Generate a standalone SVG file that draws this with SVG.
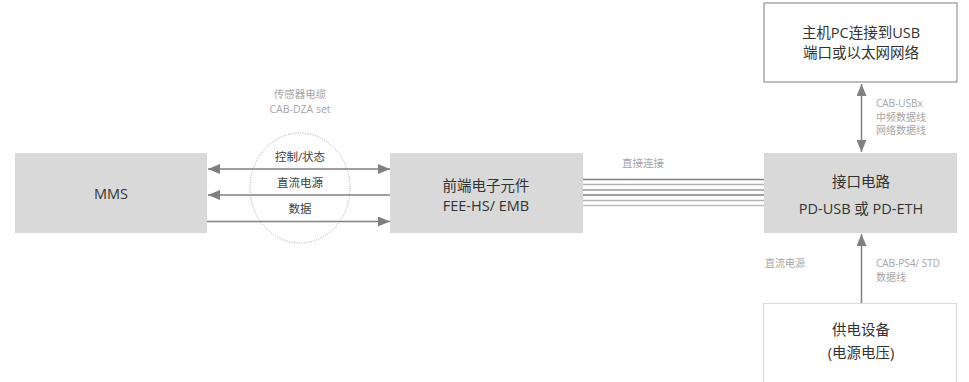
<svg xmlns="http://www.w3.org/2000/svg" width="969" height="382" viewBox="0 0 969 382">
<style>
text{font-family:"Open Sans","Noto Sans CJK SC",sans-serif;text-anchor:middle}
.box{fill:#d9d9d9}
.main{font-size:14.5px;fill:#333333}
.lbl{font-size:11.5px;fill:#404040}
.cap{font-size:10px;fill:#a6a6a6;text-anchor:start}
.gcap{font-size:10.5px;fill:#a6a6a6}
.ln{stroke:#808080;stroke-width:1.5;fill:none}
</style>
<defs>
<marker id="ah" viewBox="0 0 12 10" refX="12" refY="5" markerWidth="12" markerHeight="10" markerUnits="userSpaceOnUse" orient="auto-start-reverse">
<path d="M0,0 L12,5 L0,10 Z" fill="#808080"/>
</marker>
</defs>
<g id="mms"><rect class="box" x="15" y="153" width="192" height="80"/><text class="main" x="111" y="199">MMS</text></g>
<g id="fee"><rect class="box" x="390" y="153" width="193" height="80"/><text class="main" x="486" y="191">前端电子元件</text><text class="main" x="486" y="211">FEE-HS/ EMB</text></g>
<g id="iface"><rect class="box" x="764" y="153" width="193" height="80"/><text class="main" x="861" y="187">接口电路</text><text class="main" x="861" y="214">PD-USB 或 PD-ETH</text></g>
<g id="host"><rect x="764" y="3" width="193" height="79" fill="#fff" stroke="#808080" stroke-width="1"/><text class="main" x="861" y="38">主机PC连接到USB</text><text class="main" x="861" y="58">端口或以太网网络</text></g>
<g id="psu"><rect x="763.5" y="303.5" width="193" height="90" fill="#fff" stroke="#d9d9d9" stroke-width="1"/><text class="main" x="861" y="335">供电设备</text><text class="main" x="861" y="358">(电源电压)</text></g>
<g id="cable"><ellipse cx="300" cy="188" rx="50" ry="55" fill="none" stroke="#a0a0a0" stroke-width="1" stroke-dasharray="1,1.5"/><text class="gcap" x="300" y="98">传感器电缆</text><text class="gcap" x="300" y="113">CAB-DZA set</text></g>
<g id="connectors">
<line class="ln" x1="208" y1="169" x2="390" y2="169" marker-start="url(#ah)" marker-end="url(#ah)"/>
<line class="ln" x1="390" y1="195" x2="208" y2="195" marker-end="url(#ah)"/>
<line class="ln" x1="207" y1="221.5" x2="390" y2="221.5" marker-end="url(#ah)"/>
<line x1="583" y1="179.5" x2="764" y2="179.5" stroke="#7f7f7f" stroke-width="1.5"/>
<line x1="583" y1="184.5" x2="764" y2="184.5" stroke="#b3b3b3" stroke-width="1.5"/>
<line x1="583" y1="190" x2="764" y2="190" stroke="#9a9a9a" stroke-width="1.5"/>
<line x1="583" y1="195" x2="764" y2="195" stroke="#7f7f7f" stroke-width="1.5"/>
<line x1="583" y1="200.5" x2="764" y2="200.5" stroke="#b3b3b3" stroke-width="1.5"/>
<line x1="583" y1="205.5" x2="764" y2="205.5" stroke="#bfbfbf" stroke-width="1.5"/>
<line class="ln" x1="861.5" y1="84" x2="861.5" y2="152" marker-start="url(#ah)" marker-end="url(#ah)"/>
<line class="ln" x1="861.5" y1="303" x2="861.5" y2="234" marker-end="url(#ah)"/>
</g>
<g id="labels">
<text class="lbl" x="300" y="161">控制/状态</text>
<text class="lbl" x="300" y="187">直流电源</text>
<text class="lbl" x="300" y="213">数据</text>
<text class="gcap" x="643" y="167">直接连接</text>
<text class="cap" x="876" y="107">CAB-USBx</text>
<text class="cap" x="876" y="120.5">中频数据线</text>
<text class="cap" x="876" y="134">网络数据线</text>
<text class="cap" x="765" y="267">直流电源</text>
<text class="cap" x="876" y="267">CAB-PS4/ STD</text>
<text class="cap" x="876" y="281">数据线</text>
</g>
</svg>
